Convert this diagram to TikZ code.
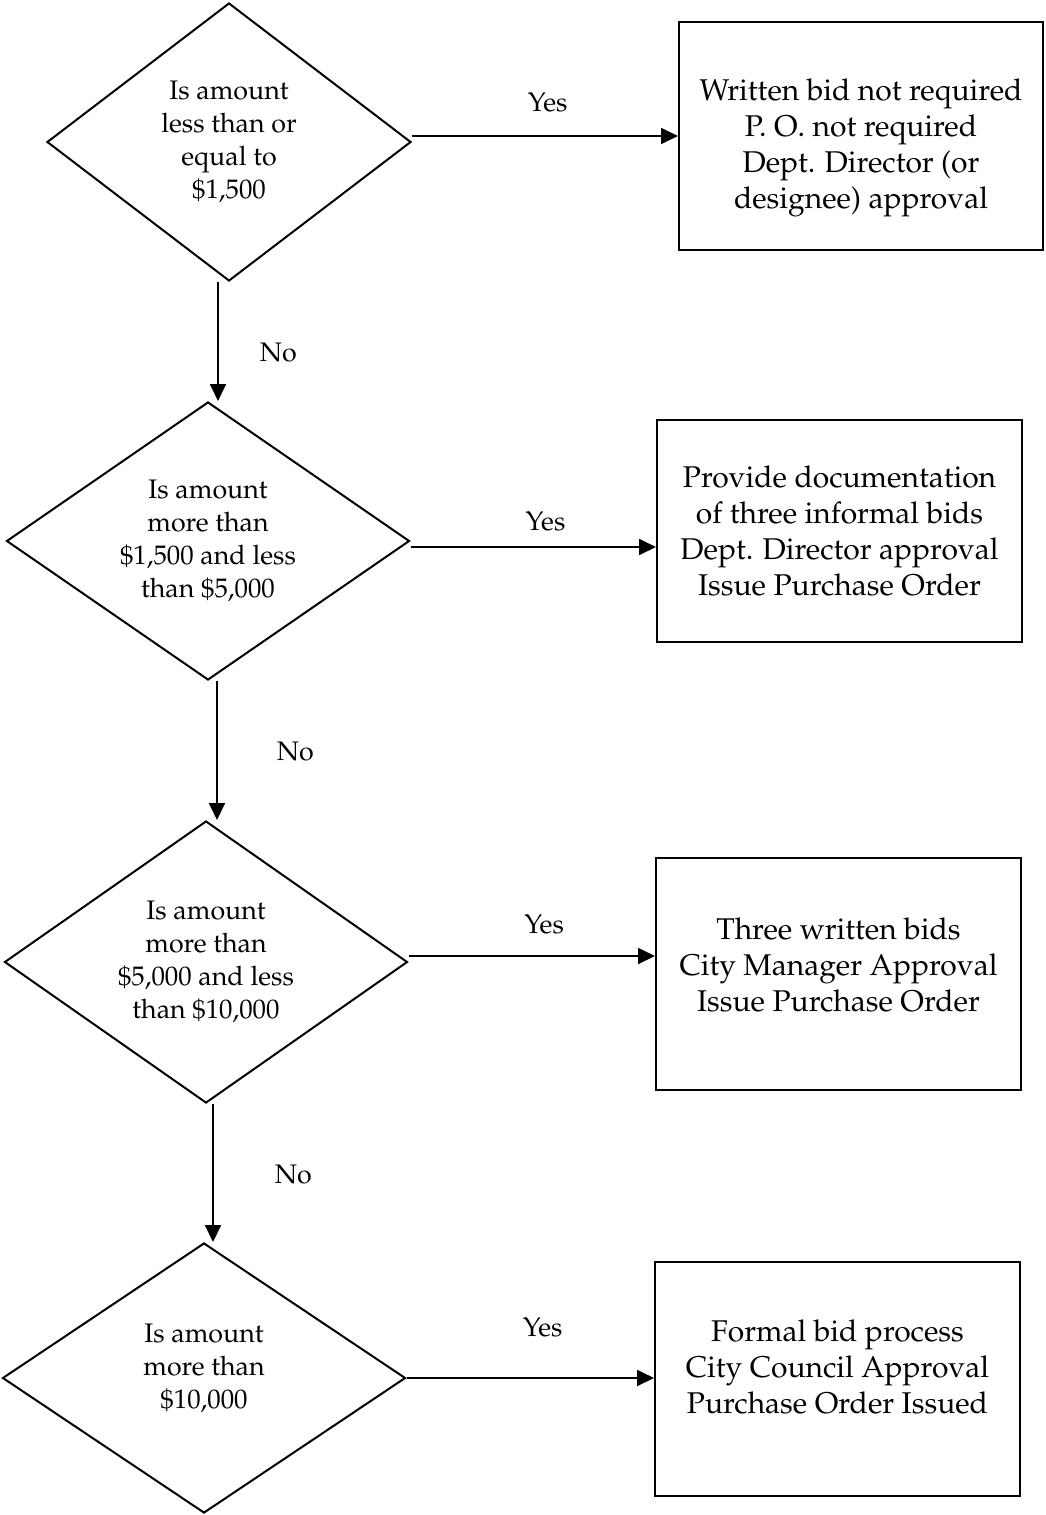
\documentclass[tikz,border=0pt]{standalone}
\usepackage[T1]{fontenc}
\usepackage{mathpazo}
\usepackage{tikz}
\usetikzlibrary{positioning,arrows.meta,shapes.geometric}

% invisible struts to nudge text inside a node
\newcommand{\padtop}[1]{\rule{0pt}{#1}}
\newcommand{\padbot}[1]{\rule[-#1]{0pt}{#1}}

\begin{document}
\begin{tikzpicture}[
    node distance=208pt,
    decision/.style={diamond, aspect=1.45, inner sep=0pt, draw=black, line width=1pt, minimum width=201.5pt, minimum height=139pt, align=center, font=\fontsize{13.4}{16.5}\selectfont},
    outcome/.style={rectangle, draw=black, line width=1pt, minimum width=182.5pt, minimum height=114pt, align=center, font=\fontsize{15}{18}\selectfont},
    answer/.style={inner sep=0pt, font=\fontsize{13.4}{16}\selectfont},
    arrow/.style={-{Triangle[length=8.5pt,width=8pt]}, line width=0.9pt}
]

% Page area
\useasboundingbox (0,0) rectangle (522.5pt,-757.5pt);

% Decisions
\node (d1) [decision, minimum width=182pt] at (114.5pt,-71pt) {Is amount\\less than or\\equal to\\\$1,500};
\node (d2) [decision, below of=d1, xshift=-10.5pt, yshift=8.5pt] {Is amount\\more than\\\$1,500 and less\\than \$5,000};
\node (d3) [decision, below of=d2, xshift=-1pt, yshift=-2.5pt, minimum height=141pt] {Is amount\\more than\\\$5,000 and less\\than \$10,000};
\node (d4) [decision, below of=d3, xshift=-1pt, minimum height=135pt] {Is amount\\more than\\\$10,000\padbot{11.8pt}};

% Outcomes
\node (b1) [outcome, right of=d1, xshift=108pt, yshift=3pt, minimum width=182pt] {\padtop{22.8pt}Written bid not required\\P. O. not required\\Dept. Director (or\\designee) approval};
\node (b2) [outcome, right of=d2, xshift=107.75pt, yshift=5pt, minimum height=111pt] {Provide documentation\\of three informal bids\\Dept. Director approval\\Issue Purchase Order};
\node (b3) [outcome, right of=d3, xshift=108.25pt, yshift=-6pt, minimum height=116pt] {Three written bids\\City Manager Approval\\Issue Purchase Order\padbot{9pt}};
\node (b4) [outcome, right of=d4, xshift=108.75pt, yshift=-0.5pt, minimum height=117pt] {Formal bid process\\City Council Approval\\Purchase Order Issued\padbot{12pt}};

% Yes arrows
\draw[arrow] ([yshift=3pt]d1.east) -- ([yshift=3pt]d1.east -| b1.west) node[answer, pos=0.51, above=11.5pt] {Yes};
\draw[arrow] ([yshift=-3pt]d2.east) -- ([yshift=-3pt]d2.east -| b2.west) node[answer, pos=0.55, above=7.5pt] {Yes};
\draw[arrow] ([yshift=3pt]d3.east) -- ([yshift=3pt]d3.east -| b3.west) node[answer, pos=0.55, above=10.5pt] {Yes};
\draw[arrow] (d4.east) -- (d4.east -| b4.west) node[answer, pos=0.55, above=20pt] {Yes};

% No arrows
\draw[arrow] ([xshift=-5.5pt]d1.south) -- ([xshift=-5.5pt]d1.south |- d2.north) node[answer, pos=0.59, right=20.5pt] {No};
\draw[arrow] ([xshift=4.5pt]d2.south) -- ([xshift=4.5pt]d2.south |- d3.north) node[answer, pos=0.51, right=29.5pt] {No};
\draw[arrow] ([xshift=3.5pt]d3.south) -- ([xshift=3.5pt]d3.south |- d4.north) node[answer, pos=0.51, right=30.5pt] {No};

\end{tikzpicture}
\end{document}
